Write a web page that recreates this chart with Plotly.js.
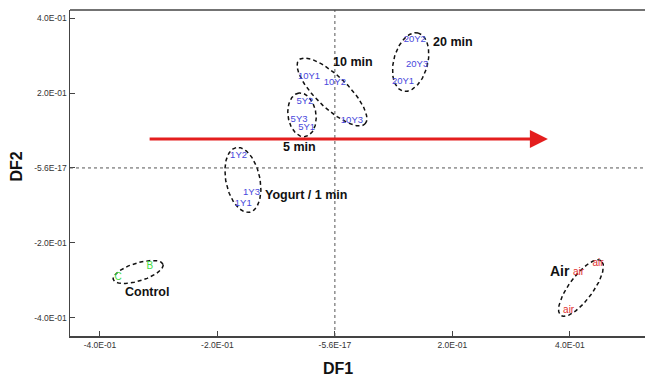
<!DOCTYPE html>
<html><head><meta charset="utf-8">
<script src="https://cdn.plot.ly/plotly-3.0.1.min.js"></script>
<style>html,body{margin:0;padding:0;background:#fff}#c{width:645px;height:378px}</style>
</head><body><div id="c"></div>
<script>
// sample scores (DF1, DF2)
const yogLabels = ['1Y2','1Y3','1Y1','5Y2','5Y3','5Y1','10Y1','10Y2','10Y3','20Y2','20Y3','20Y1'];
const yogDF1 = [-0.164,-0.142,-0.156,-0.051,-0.061,-0.048,-0.044,0.000,0.029,0.136,0.140,0.116];
const yogDF2 = [0.033,-0.067,-0.095,0.176,0.128,0.107,0.243,0.227,0.126,0.342,0.275,0.230];
const ctlLabels = ['B','C'];
const ctlDF1 = [-0.315,-0.369];
const ctlDF2 = [-0.262,-0.294];
const airLabels = ['air','air','air'];
const airDF1 = [0.415,0.448,0.398];
const airDF2 = [-0.278,-0.254,-0.380];

// group ellipses: centre (data), semi-axes (px), rotation (deg)
const ellCx = [-0.1566,-0.056,-0.005,0.129,-0.335,0.419];
const ellCy = [-0.032,0.142,0.203,0.283,-0.278,-0.321];
const ellA = [33,22,46,30,26,34];
const ellB = [17,14,16,17,9,12];
const ellAng = [102,98,-44,75,17,53.5];

// group labels
const grpText = ['10 min','20 min','5 min','Yogurt / 1 min','Control','Air'];
const grpX = [0.031,0.201,-0.060,-0.049,-0.320,0.383];
const grpY = [0.283,0.337,0.056,-0.072,-0.332,-0.275];
const grpSize = [12.5,12.5,12.5,12.5,12.5,14];

// arrow (DF1 from, DF1 to, DF2)
const arrowFrom = -0.318, arrowTo = 0.3626, arrowY = 0.0775;

const tickVals = [-0.4,-0.2,0,0.2,0.4];
const tickText = ['-4.0E-01','-2.0E-01','-5.6E-17','2.0E-01','4.0E-01'];

const xr = [-0.451,0.528], yr = [-0.449,0.422];
const L=70,R=0,T=10,B=42,W=645,H=378;
const pw=W-L-R, ph=H-T-B;
const kx = pw/(xr[1]-xr[0]), ky = ph/(yr[1]-yr[0]);

const traces = [];
for (let i=0;i<ellCx.length;i++){
  const xs=[],ys=[]; const th=ellAng[i]*Math.PI/180;
  for (let k=0;k<=120;k++){
    const t=2*Math.PI*k/120;
    const px=ellA[i]*Math.cos(t), py=ellB[i]*Math.sin(t);
    const rx=px*Math.cos(th)-py*Math.sin(th), ry=px*Math.sin(th)+py*Math.cos(th);
    xs.push(ellCx[i]+rx/kx); ys.push(ellCy[i]+ry/ky);
  }
  traces.push({x:xs,y:ys,mode:'lines',line:{color:'#111',width:1.5,dash:'4px,3px'},hoverinfo:'skip',showlegend:false});
}
const tf = 'Liberation Sans, Arial, sans-serif';
traces.push({x:yogDF1,y:yogDF2,text:yogLabels,mode:'text',textposition:'middle center',textfont:{family:tf,size:9.5,color:'#4848dc'},showlegend:false});
traces.push({x:ctlDF1,y:ctlDF2,text:ctlLabels,mode:'text',textposition:'middle center',textfont:{family:tf,size:10,color:'#44dd44'},showlegend:false});
traces.push({x:airDF1,y:airDF2,text:airLabels,mode:'text',textposition:'middle center',textfont:{family:tf,size:10,color:'#e03030'},showlegend:false});

const ann = grpText.map((t,i)=>({x:grpX[i],y:grpY[i],text:'<b>'+t+'</b>',showarrow:false,font:{family:tf,size:grpSize[i],color:'#111'}}));
ann.push({x:arrowTo,y:arrowY,ax:arrowFrom,ay:arrowY,axref:'x',ayref:'y',text:'',showarrow:true,arrowhead:2,arrowsize:1.2,arrowwidth:3,arrowcolor:'#e41e1e'});
ann.push({xref:'paper',yref:'paper',x:(338-L)/pw,y:(H-B-368)/ph,xanchor:'center',yanchor:'middle',text:'<b>DF1</b>',showarrow:false,font:{family:tf,size:16,color:'#111'}});
ann.push({xref:'paper',yref:'paper',x:(15.5-L)/pw,y:(H-B-167)/ph,xanchor:'center',yanchor:'middle',text:'<b>DF2</b>',textangle:-90,showarrow:false,font:{family:tf,size:16,color:'#111'}});

const axCommon = {showgrid:false,zeroline:false,showline:true,linecolor:'#444',linewidth:1.5,ticks:'inside',ticklen:5,tickcolor:'#444',tickvals:tickVals,ticktext:tickText,tickfont:{family:tf,size:8.5,color:'#333'}};

const layout = {
  width:W,height:H,margin:{l:L,r:R,t:T,b:B},paper_bgcolor:'#fff',plot_bgcolor:'#fff',
  xaxis:Object.assign({range:xr},axCommon),
  yaxis:Object.assign({range:yr},axCommon),
  annotations:ann,
  shapes:[
    {type:'line',xref:'x',yref:'paper',x0:0,x1:0,y0:0,y1:1,line:{color:'#555',width:1,dash:'dot'}},
    {type:'line',xref:'paper',yref:'y',x0:0,x1:1,y0:0,y1:0,line:{color:'#555',width:1,dash:'dot'}},
    {type:'line',xref:'paper',yref:'paper',x0:0,x1:1,y0:1,y1:1,line:{color:'#444',width:1.5}}
  ]
};
Plotly.newPlot('c',traces,layout,{staticPlot:true,displayModeBar:false});
</script></body></html>
